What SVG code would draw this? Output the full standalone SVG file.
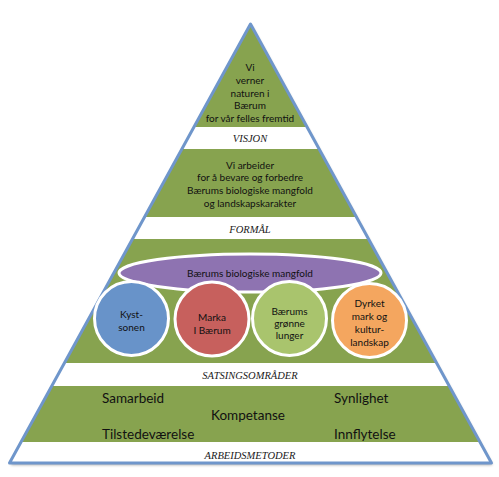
<svg xmlns="http://www.w3.org/2000/svg" width="499" height="477" viewBox="0 0 499 477">
<defs>
<style>
.band{fill:#87a34f}
.lbl{font-family:"Liberation Serif",serif;font-style:italic;font-size:10.5px;fill:#1a1a1a;text-anchor:middle}
.t{font-family:Lato,"Open Sans",sans-serif;font-size:10px;fill:#111;text-anchor:middle}
.b{font-family:Lato,"Open Sans",sans-serif;font-size:13.5px;fill:#111}
.c{stroke:#fff;stroke-width:3}
</style>
<filter id="sh" x="-10%" y="-10%" width="120%" height="130%">
<feGaussianBlur in="SourceAlpha" stdDeviation="1.5"/>
<feOffset dx="1" dy="2" result="o"/>
<feComponentTransfer><feFuncA type="linear" slope="0.35"/></feComponentTransfer>
<feMerge><feMergeNode/><feMergeNode in="SourceGraphic"/></feMerge>
</filter>
</defs>
<g id="pyramid">
<polygon points="250.5,24 491.5,463 9.5,463" fill="#fff" filter="url(#sh)"/>
<polygon class="band" points="250.5,24 307,127 194,127"/>
<polygon class="band" points="181.9,149 319.1,149 356.5,217 144.5,217"/>
<polygon class="band" points="132.5,239 368.5,239 436.6,363 64.4,363"/>
<polygon class="band" points="51.8,386 449.2,386 480,442 21,442"/>
<polygon points="250.5,24 491.5,463 9.5,463" fill="none" stroke="#6f96cb" stroke-width="3" stroke-linejoin="round"/>
</g>
<g id="visjon">
<text class="t" x="250" y="71">Vi</text>
<text class="t" x="250" y="84">verner</text>
<text class="t" x="250" y="97">naturen i</text>
<text class="t" x="250" y="109">Bærum</text>
<text class="t" x="250" y="122">for vår felles fremtid</text>
<text class="lbl" x="250" y="142">VISJON</text>
</g>
<g id="formal">
<text class="t" x="250" y="169">Vi arbeider</text>
<text class="t" x="250" y="181">for å bevare og forbedre</text>
<text class="t" x="250" y="194">Bærums biologiske mangfold</text>
<text class="t" x="250" y="207">og landskapskarakter</text>
<text class="lbl" x="250" y="233">FORMÅL</text>
</g>
<g id="mangfold">
<ellipse cx="250" cy="273" rx="131" ry="19" fill="#8e73b1" class="c"/>
<text class="t" x="250" y="277">Bærums biologiske mangfold</text>
</g>
<g id="kyst">
<circle cx="131.5" cy="318.5" r="37" fill="#6893c9" class="c"/>
<text class="t" x="131.5" y="318">Kyst-</text>
<text class="t" x="131.5" y="331">sonen</text>
</g>
<g id="marka">
<circle cx="212" cy="319" r="37" fill="#c7605d" class="c"/>
<text class="t" x="212" y="321">Marka</text>
<text class="t" x="212" y="334">I Bærum</text>
</g>
<g id="lunger">
<circle cx="289.5" cy="318.5" r="37" fill="#a9c46d" class="c"/>
<text class="t" x="289.5" y="315">Bærums</text>
<text class="t" x="289.5" y="327">grønne</text>
<text class="t" x="289.5" y="339">lunger</text>
</g>
<g id="dyrket">
<circle cx="369.5" cy="320.5" r="37" fill="#f4a65f" class="c"/>
<text class="t" x="369.5" y="307">Dyrket</text>
<text class="t" x="369.5" y="320">mark og</text>
<text class="t" x="369.5" y="333">kultur-</text>
<text class="t" x="369.5" y="346">landskap</text>
</g>
<text class="lbl" x="250" y="379">SATSINGSOMRÅDER</text>
<g id="metoder">
<text class="b" x="102" y="403">Samarbeid</text>
<text class="b" x="334" y="403">Synlighet</text>
<text class="b" x="211" y="420">Kompetanse</text>
<text class="b" x="102" y="439">Tilstedeværelse</text>
<text class="b" x="334" y="439">Innflytelse</text>
<text class="lbl" x="250" y="459">ARBEIDSMETODER</text>
</g>
</svg>
